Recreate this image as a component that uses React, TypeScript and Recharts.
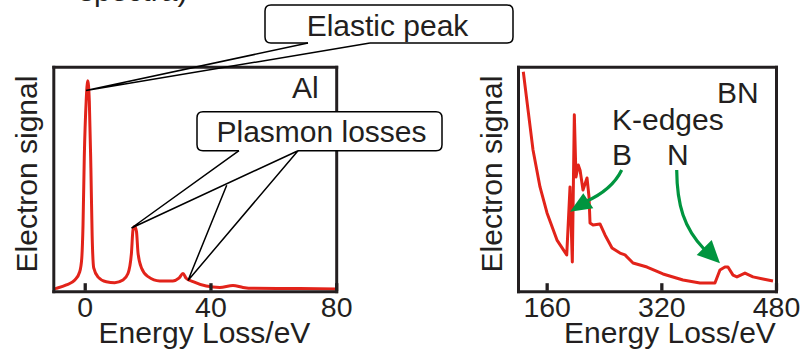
import React from 'react';
import { LineChart, Line, XAxis, YAxis } from 'recharts';

// Al spectrum: energy loss (eV) and signal (arbitrary units, 0-100)
const alEnergy = [-10, -9.2, -6.0, -3.3, -1.75, -1.1, -0.7, -0.3, 0.3, 0.8, 1.3, 1.8, 2.2, 2.7, 4.1, 6.7, 9.4, 12.0, 13.6, 14.7, 15.2, 15.75, 16.3, 16.8, 17.9, 20, 23.7, 27.9, 29.8, 31.1, 32.1, 34.3, 38.5, 42.8, 47, 50.2, 53.4, 68.3, 80];
const alSignal = [1.2, 1.5, 3.0, 5.2, 8.9, 15, 30, 60, 85, 94, 85, 55, 25, 10.6, 6.5, 4.4, 4.0, 5.2, 8.1, 17.2, 27.5, 29.0, 26.8, 17.2, 10.6, 6.7, 4.8, 4.8, 6.0, 8.1, 6.0, 4.5, 2.5, 1.9, 2.8, 1.9, 1.5, 1.4, 1.2];

// BN spectrum
const bnEnergy = [126.7, 133.3, 140.2, 150, 159.8, 173.7, 187.3, 191.9, 195.1, 197.9, 200.2, 203.4, 206, 210, 215.6, 218.4, 219.8, 224, 233.7, 240.7, 250.5, 261.6, 268.6, 279.8, 299.3, 321.6, 349.5, 373.2, 394.1, 401.1, 408, 412.3, 419.3, 424.8, 436, 447.2, 461.1, 475.1];
const bnSignal = [98, 81, 63.3, 46.7, 35.1, 23.0, 16.4, 46.7, 13.2, 78.8, 51.1, 56.5, 54, 45.3, 50.7, 42.2, 30.6, 29.7, 30.2, 25.3, 19.5, 17.2, 16.4, 12.8, 11.0, 7.9, 5.2, 3.9, 3.9, 9.7, 11.0, 11.0, 7.4, 6.6, 8.3, 6.6, 5.7, 4.8];

const alTicks = [0, 40, 80];
const bnTicks = [160, 320, 480];

const ink = '#231f20';
const red = '#e2231a';
const green = '#00953f';
const font = '"Liberation Sans", Arial, sans-serif';

const alData = alEnergy.map((e, i) => ({ e, v: alSignal[i] }));
const bnData = bnEnergy.map((e, i) => ({ e, v: bnSignal[i] }));

function InnerTick(props: any) {
  const { x, y, payload } = props;
  return (
    <g>
      <line x1={x} x2={x} y1={y - 1} y2={y - 8.5} stroke={ink} strokeWidth={3.3} />
      <text x={x} y={y + 25} textAnchor="middle" fontSize={28.5} fill={ink} fontFamily={font}>
        {payload.value}
      </text>
    </g>
  );
}

const frame = { stroke: ink, strokeWidth: 3, strokeLinecap: 'square' as const };

// the frame around each plot is made of four axis lines; the side axes get 1px of room
function Panel({ data, domain, ticks, ml, mr, w, curve }: any) {
  return (
    <LineChart width={w} height={350} data={data}
      margin={{ top: 66.3, left: ml - 1, right: mr - 1, bottom: 350 - 291.7 - 30 }}>
      <XAxis dataKey="e" type="number" domain={domain} ticks={ticks} allowDataOverflow
        axisLine={frame} tickLine={false} tickSize={0} tickMargin={0} height={30}
        interval={0} tick={<InnerTick />} />
      <XAxis xAxisId="top" orientation="top" dataKey="e" type="number" domain={domain}
        allowDataOverflow axisLine={frame} tick={false} tickLine={false} height={1} />
      <YAxis domain={[0, 100]} allowDataOverflow width={1} axisLine={frame} tick={false} tickLine={false} />
      <YAxis yAxisId="right" orientation="right" domain={[0, 100]} width={1}
        axisLine={frame} tick={false} tickLine={false} />
      <Line dataKey="v" type={curve} stroke={red} strokeWidth={3} dot={false}
        strokeLinejoin="round" isAnimationActive={false} />
    </LineChart>
  );
}

const txt = { fontFamily: font, fontSize: 30, fill: ink };

export default function App() {
  return (
    <div style={{ position: 'fixed', left: 0, top: 0, width: 807, height: 350, background: '#fff', overflow: 'hidden' }}>
      <div style={{ position: 'absolute', left: 0, top: 0 }}>
        <Panel data={alData} domain={[-10, 80]} ticks={alTicks} ml={53.8} mr={400 - 336.7} w={400} curve="monotone" />
      </div>
      <div style={{ position: 'absolute', left: 400, top: 0 }}>
        <Panel data={bnData} domain={[120, 480]} ticks={bnTicks} ml={118.5} mr={407 - 376.5} w={407} curve="linear" />
      </div>
      <svg width={807} height={350} style={{ position: 'absolute', left: 0, top: 0, pointerEvents: 'none' }}>
        <text x={79} y={1} {...txt}>spectra)</text>

        {/* axis titles */}
        <text transform="translate(37,174) rotate(-90)" textAnchor="middle" {...txt}>Electron signal</text>
        <text transform="translate(502,174) rotate(-90)" textAnchor="middle" {...txt}>Electron signal</text>
        <text x={204.5} y={343} textAnchor="middle" {...txt}>Energy Loss/eV</text>
        <text x={670} y={343} textAnchor="middle" {...txt}>Energy Loss/eV</text>

        <text x={292} y={98} {...txt}>Al</text>
        <text x={717} y={103} {...txt}>BN</text>
        <text x={612} y={130} {...txt}>K-edges</text>
        <text x={612} y={165} {...txt}>B</text>
        <text x={667} y={165} {...txt}>N</text>

        {/* Elastic peak callout */}
        <rect x={265} y={5} width={248} height={38} rx={6} fill="#fff" />
        <path d="M308,43 L271,43 Q265,43 265,37 L265,11 Q265,5 271,5 L507,5 Q513,5 513,11 L513,37 Q513,43 507,43 L370,43"
          fill="none" stroke="#000" strokeWidth={1.5} />
        <path d="M308,43 L86,90.5 L370,43" fill="none" stroke="#000" strokeWidth={1.5} />
        <text x={387.5} y={36} textAnchor="middle" {...txt}>Elastic peak</text>

        {/* Plasmon losses callout */}
        <rect x={197} y={111.7} width={245} height={39} rx={6} fill="#fff" />
        <path d="M239,150.7 L203,150.7 Q197,150.7 197,144.7 L197,117.7 Q197,111.7 203,111.7 L436,111.7 Q442,111.7 442,117.7 L442,144.7 Q442,150.7 436,150.7 L298,150.7"
          fill="none" stroke="#000" strokeWidth={1.5} />
        <path d="M239,150.7 L131.5,228 L298,150.7 L188,280.5 M226.7,185.3 L188,280.5" fill="none" stroke="#000" strokeWidth={1.5} />
        <text x={321.5} y={141.7} textAnchor="middle" {...txt}>Plasmon losses</text>

        {/* green arrows */}
        <path d="M621.7,170 Q612,190 585,202" fill="none" stroke={green} strokeWidth={3.2} />
        <polygon points="570,211.7 583.3,193.3 593.3,208.3" fill={green} />
        <path d="M676.7,170 C677,205 684,228 704,249" fill="none" stroke={green} strokeWidth={3.2} />
        <polygon points="720,263.3 696.7,255 711.7,240" fill={green} />
      </svg>
    </div>
  );
}
